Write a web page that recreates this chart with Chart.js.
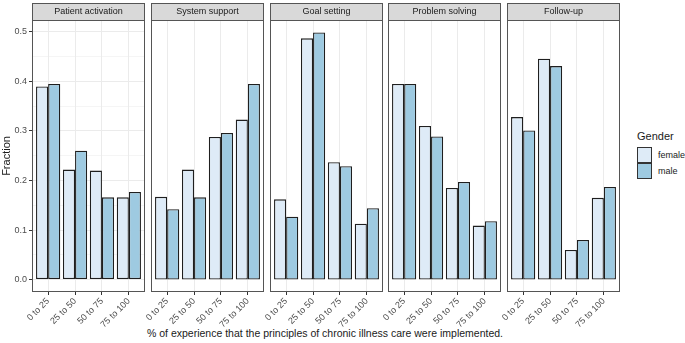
<!DOCTYPE html>
<html>
<head>
<meta charset="utf-8">
<script src="https://cdn.jsdelivr.net/npm/chart.js@4/dist/chart.umd.min.js"></script>
<style>
  body { margin: 0; background: #fff; font-family: 'Liberation Sans', Arial, sans-serif; }
  #wrap { position: relative; width: 685px; height: 343px; overflow: hidden; }
  canvas { position: absolute; top: 0; }
  .txt { position: absolute; color: #1a1a1a; white-space: nowrap; line-height: 1; }
  .key { position: absolute; width: 15px; height: 16px; border: 1px solid #333; box-sizing: border-box; }
</style>
</head>
<body>
<div id="wrap">
  <div class="txt" style="left:0;width:650px;text-align:center;top:328px;font-size:10.5px;">% of experience that the principles of chronic illness care were implemented.</div>
  <div class="txt" style="left:637px;top:131px;font-size:11px;">Gender</div>
  <div class="key" style="left:637px;top:147px;background:#deebf7;"></div>
  <div class="key" style="left:637px;top:163px;background:#9ecae1;"></div>
  <div class="txt" style="left:658px;top:151px;font-size:9px;">female</div>
  <div class="txt" style="left:658px;top:167px;font-size:9px;">male</div>
</div>
<script>
const categories = ['0 to 25', '25 to 50', '50 to 75', '75 to 100'];
const panelTitles = ['Patient activation', 'System support', 'Goal setting', 'Problem solving', 'Follow-up'];
const femaleFraction = [
  [0.390, 0.222, 0.220, 0.166],
  [0.167, 0.222, 0.288, 0.323],
  [0.162, 0.487, 0.237, 0.113],
  [0.395, 0.310, 0.185, 0.109],
  [0.328, 0.446, 0.060, 0.165]
];
const maleFraction = [
  [0.395, 0.260, 0.166, 0.177],
  [0.142, 0.166, 0.296, 0.395],
  [0.127, 0.499, 0.229, 0.144],
  [0.395, 0.289, 0.197, 0.118],
  [0.301, 0.431, 0.080, 0.187]
];
const yTicks = [0, 0.05, 0.1, 0.15, 0.2, 0.25, 0.3, 0.35, 0.4, 0.45, 0.5];

const FONT = "'Liberation Sans', Arial, sans-serif";
const panelLeft = [32, 151, 270, 388, 507];
const panelWidth = 113;
const gutter = 14; // room left of a panel for rotated tick labels
const wrap = document.getElementById('wrap');

const isMajor = v => Math.abs(Math.round(v * 10) - v * 10) < 1e-6;

// strip on top + panel border, like facet_wrap
const facetPlugin = {
  id: 'facet',
  afterDraw(chart, args, opts) {
    const ctx = chart.ctx;
    const a = chart.chartArea;
    ctx.save();
    ctx.fillStyle = '#d9d9d9';
    ctx.fillRect(a.left, 3, a.right - a.left, a.top - 3);
    ctx.strokeStyle = '#555';
    ctx.lineWidth = 1;
    ctx.strokeRect(a.left + 0.5, 3.5, a.right - a.left - 1, a.top - 3);
    ctx.strokeRect(a.left + 0.5, a.top + 0.5, a.right - a.left - 1, a.bottom - a.top - 1);
    ctx.fillStyle = '#1a1a1a';
    ctx.font = '9px ' + FONT;
    ctx.textAlign = 'center';
    ctx.textBaseline = 'middle';
    ctx.fillText(opts.title, (a.left + a.right) / 2, (3 + a.top) / 2 + 0.5);
    ctx.restore();
  }
};

panelTitles.forEach((title, p) => {
  const first = p === 0;
  const canvas = document.createElement('canvas');
  const left = first ? 0 : panelLeft[p] - gutter;
  const width = first ? panelLeft[0] + panelWidth : panelWidth + gutter;
  canvas.width = width;
  canvas.height = 343;
  canvas.style.left = left + 'px';
  canvas.style.width = width + 'px';
  canvas.style.height = '343px';
  wrap.appendChild(canvas);

  const toPoints = arr => arr.map((v, i) => ({ x: i + 1, y: v }));

  new Chart(canvas.getContext('2d'), {
    type: 'bar',
    data: {
      datasets: [
        { label: 'female', data: toPoints(femaleFraction[p]), backgroundColor: '#deebf7', borderColor: '#1f1f1f', borderWidth: 1.3, borderSkipped: false },
        { label: 'male', data: toPoints(maleFraction[p]), backgroundColor: '#9ecae1', borderColor: '#1f1f1f', borderWidth: 1.3, borderSkipped: false }
      ]
    },
    options: {
      responsive: false,
      animation: false,
      events: [],
      categoryPercentage: 0.9,
      barPercentage: 1.0,
      layout: { padding: { top: 20, left: first ? 0 : gutter, right: 0, bottom: 0 } },
      plugins: { legend: { display: false }, tooltip: { enabled: false }, facet: { title: title } },
      scales: {
        x: {
          type: 'linear',
          offset: false,
          min: 0.4,
          max: 4.6,
          afterBuildTicks: s => { s.ticks = categories.map((c, i) => ({ value: i + 1 })); },
          afterFit: s => { s.height = 51; s.paddingLeft = 0; s.paddingRight = 0; },
          border: { display: false },
          grid: { offset: false, color: '#ebebeb', lineWidth: 1, tickColor: '#333', tickLength: 3 },
          ticks: {
            autoSkip: false,
            maxRotation: 45,
            minRotation: 45,
            padding: 1,
            color: '#4d4d4d',
            font: { family: FONT, size: 9 },
            callback: v => categories[Math.round(v) - 1]
          }
        },
        y: {
          display: first,
          min: -0.025,
          max: 0.524,
          afterBuildTicks: s => { s.ticks = yTicks.map(v => ({ value: v })); },
          afterFit: s => { s.width = first ? 32 : 0; },
          border: { display: false },
          grid: {
            color: '#ebebeb',
            lineWidth: c => (isMajor(c.tick.value) ? 1 : 0.5),
            tickColor: c => (isMajor(c.tick.value) ? '#333' : 'rgba(0,0,0,0)'),
            tickLength: 3
          },
          ticks: {
            autoSkip: false,
            padding: 2,
            color: '#4d4d4d',
            font: { family: FONT, size: 9 },
            callback: v => (isMajor(v) ? v.toFixed(1) : '')
          },
          title: {
            display: true,
            text: 'Fraction',
            color: '#1a1a1a',
            font: { family: FONT, size: 11 },
            padding: { top: 0, bottom: 1 }
          }
        }
      }
    },
    plugins: [facetPlugin]
  });
});
</script>
</body>
</html>
